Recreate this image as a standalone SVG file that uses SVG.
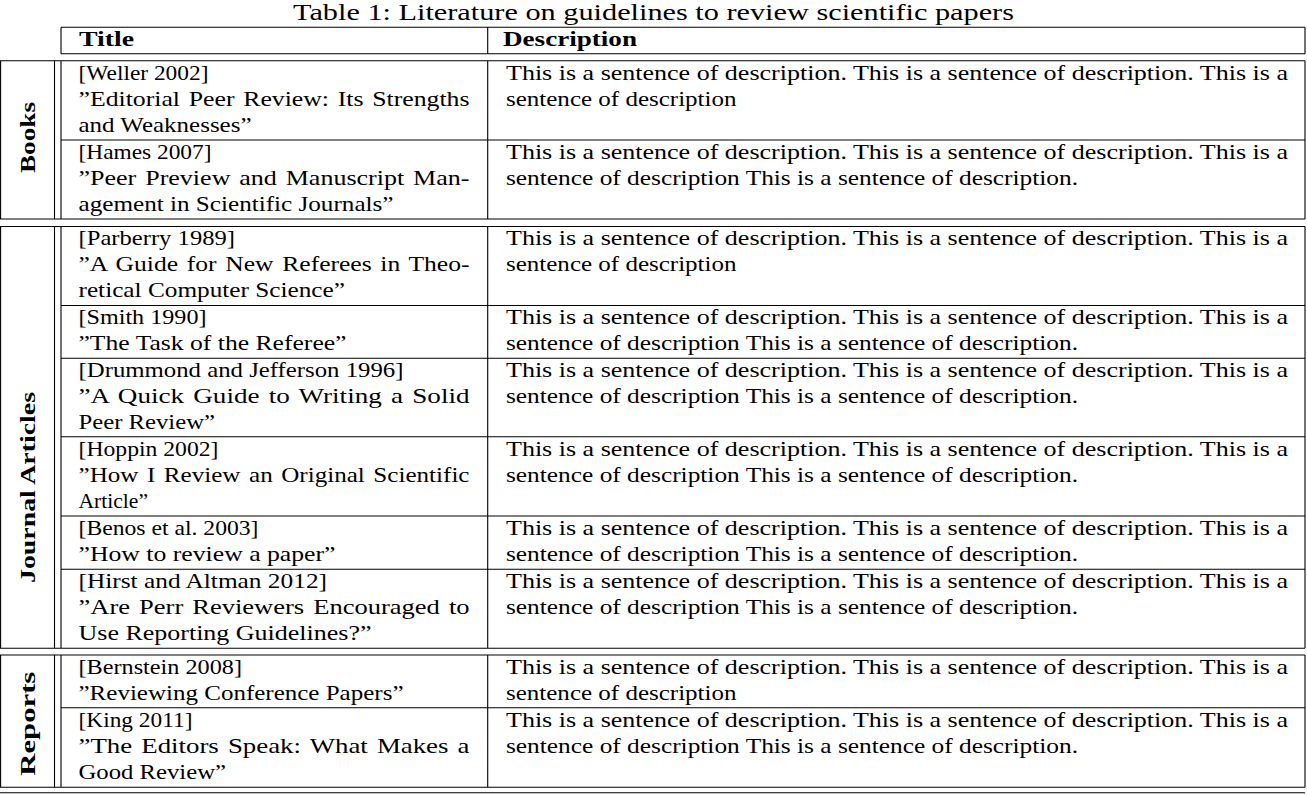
<svg xmlns="http://www.w3.org/2000/svg" width="1307" height="795" viewBox="0 0 1307 795">
<style>
  .bg { fill: #ffffff; }
  .ln { stroke: #000; stroke-width: 1.1; fill: none; }
  .t { font-family: "Liberation Serif", "Times New Roman", serif; font-size: 22px; fill: #000; }
  .j { word-spacing: 2px; }
  .b { font-family: "Liberation Serif", "Times New Roman", serif; font-size: 22px; font-weight: bold; fill: #000; }
  .cap { font-family: "Liberation Serif", "Times New Roman", serif; font-size: 23px; fill: #000; }
</style>
<rect class="bg" x="0" y="0" width="1307" height="795"/>

<text id="caption" class="cap" x="293" y="20" textLength="721" lengthAdjust="spacingAndGlyphs">Table 1: Literature on guidelines to review scientific papers</text>

<g id="connectors">
  <path class="ln" d="M61,27.3 H1305 M61,53.7 H1305 M61,27.3 V53.7 M487.7,27.3 V53.7 M1305,27.3 V53.7"/>
  <path class="ln" d="M0,60.7 H1305 M0,219 H1305 M61,140 H1305 M0.6,60.7 V219 M54.5,60.7 V219 M61,60.7 V219 M487.7,60.7 V219 M1305,60.7 V219"/>
  <path class="ln" d="M0,226.5 H1305 M0,648.3 H1305 M61,305.5 H1305 M61,358.3 H1305 M61,436.7 H1305 M61,516 H1305 M61,569.3 H1305 M0.6,226.5 V648.3 M54.5,226.5 V648.3 M61,226.5 V648.3 M487.7,226.5 V648.3 M1305,226.5 V648.3"/>
  <path class="ln" d="M0,655 H1305 M0,787.3 H1305 M61,707.7 H1305 M0.6,655 V787.3 M54.5,655 V787.3 M61,655 V787.3 M487.7,655 V787.3 M1305,655 V787.3"/>
  <path class="ln" d="M0,792.7 H1305"/>
</g>

<g id="header">
  <text class="b" x="79" y="45.5" textLength="55" lengthAdjust="spacingAndGlyphs">Title</text>
  <text class="b" x="503" y="45.5" textLength="134" lengthAdjust="spacingAndGlyphs">Description</text>
</g>

<g id="group-books">
  <text class="b" transform="translate(35,137.5) rotate(-90)" text-anchor="middle" textLength="71" lengthAdjust="spacingAndGlyphs">Books</text>
</g>
<g id="group-journal">
  <text class="b" transform="translate(35,487.5) rotate(-90)" text-anchor="middle" textLength="191" lengthAdjust="spacingAndGlyphs">Journal Articles</text>
</g>
<g id="group-reports">
  <text class="b" transform="translate(35,723.7) rotate(-90)" text-anchor="middle" textLength="104" lengthAdjust="spacingAndGlyphs">Reports</text>
</g>

<g id="row-weller">
  <text class="t" x="78.5" y="79.5" textLength="130" lengthAdjust="spacingAndGlyphs">[Weller 2002]</text>
  <text class="t j" x="78.5" y="105.5" textLength="391" lengthAdjust="spacingAndGlyphs">”Editorial Peer Review: Its Strengths</text>
  <text class="t" x="78.5" y="131.5" textLength="173" lengthAdjust="spacingAndGlyphs">and Weaknesses”</text>
  <text class="t" x="506" y="79.5" textLength="782" lengthAdjust="spacingAndGlyphs">This is a sentence of description. This is a sentence of description. This is a</text>
  <text class="t" x="506" y="105.5" textLength="230.5" lengthAdjust="spacingAndGlyphs">sentence of description</text>
</g>

<g id="row-hames">
  <text class="t" x="78.5" y="158.8" textLength="133" lengthAdjust="spacingAndGlyphs">[Hames 2007]</text>
  <text class="t j" x="78.5" y="184.8" textLength="391" lengthAdjust="spacingAndGlyphs">”Peer Preview and Manuscript Man-</text>
  <text class="t" x="78.5" y="210.8" textLength="315" lengthAdjust="spacingAndGlyphs">agement in Scientific Journals”</text>
  <text class="t" x="506" y="158.8" textLength="782" lengthAdjust="spacingAndGlyphs">This is a sentence of description. This is a sentence of description. This is a</text>
  <text class="t" x="506" y="184.8" textLength="572" lengthAdjust="spacingAndGlyphs">sentence of description This is a sentence of description.</text>
</g>

<g id="row-parberry">
  <text class="t" x="78.5" y="245.3" textLength="156.5" lengthAdjust="spacingAndGlyphs">[Parberry 1989]</text>
  <text class="t j" x="78.5" y="271.3" textLength="391" lengthAdjust="spacingAndGlyphs">”A Guide for New Referees in Theo-</text>
  <text class="t" x="78.5" y="297.3" textLength="266.5" lengthAdjust="spacingAndGlyphs">retical Computer Science”</text>
  <text class="t" x="506" y="245.3" textLength="782" lengthAdjust="spacingAndGlyphs">This is a sentence of description. This is a sentence of description. This is a</text>
  <text class="t" x="506" y="271.3" textLength="230.5" lengthAdjust="spacingAndGlyphs">sentence of description</text>
</g>

<g id="row-smith">
  <text class="t" x="78.5" y="324.3" textLength="128" lengthAdjust="spacingAndGlyphs">[Smith 1990]</text>
  <text class="t" x="78.5" y="350.3" textLength="268" lengthAdjust="spacingAndGlyphs">”The Task of the Referee”</text>
  <text class="t" x="506" y="324.3" textLength="782" lengthAdjust="spacingAndGlyphs">This is a sentence of description. This is a sentence of description. This is a</text>
  <text class="t" x="506" y="350.3" textLength="572" lengthAdjust="spacingAndGlyphs">sentence of description This is a sentence of description.</text>
</g>

<g id="row-drummond">
  <text class="t" x="78.5" y="377.1" textLength="325" lengthAdjust="spacingAndGlyphs">[Drummond and Jefferson 1996]</text>
  <text class="t j" x="78.5" y="403.1" textLength="391" lengthAdjust="spacingAndGlyphs">”A Quick Guide to Writing a Solid</text>
  <text class="t" x="78.5" y="429.1" textLength="136.5" lengthAdjust="spacingAndGlyphs">Peer Review”</text>
  <text class="t" x="506" y="377.1" textLength="782" lengthAdjust="spacingAndGlyphs">This is a sentence of description. This is a sentence of description. This is a</text>
  <text class="t" x="506" y="403.1" textLength="572" lengthAdjust="spacingAndGlyphs">sentence of description This is a sentence of description.</text>
</g>

<g id="row-hoppin">
  <text class="t" x="78.5" y="455.5" textLength="140" lengthAdjust="spacingAndGlyphs">[Hoppin 2002]</text>
  <text class="t j" x="78.5" y="481.5" textLength="391" lengthAdjust="spacingAndGlyphs">”How I Review an Original Scientific</text>
  <text class="t" x="78.5" y="507.5" textLength="69.5" lengthAdjust="spacingAndGlyphs">Article”</text>
  <text class="t" x="506" y="455.5" textLength="782" lengthAdjust="spacingAndGlyphs">This is a sentence of description. This is a sentence of description. This is a</text>
  <text class="t" x="506" y="481.5" textLength="572" lengthAdjust="spacingAndGlyphs">sentence of description This is a sentence of description.</text>
</g>

<g id="row-benos">
  <text class="t" x="78.5" y="534.8" textLength="180" lengthAdjust="spacingAndGlyphs">[Benos et al. 2003]</text>
  <text class="t" x="78.5" y="560.8" textLength="257" lengthAdjust="spacingAndGlyphs">”How to review a paper”</text>
  <text class="t" x="506" y="534.8" textLength="782" lengthAdjust="spacingAndGlyphs">This is a sentence of description. This is a sentence of description. This is a</text>
  <text class="t" x="506" y="560.8" textLength="572" lengthAdjust="spacingAndGlyphs">sentence of description This is a sentence of description.</text>
</g>

<g id="row-hirst">
  <text class="t" x="78.5" y="588.1" textLength="248.5" lengthAdjust="spacingAndGlyphs">[Hirst and Altman 2012]</text>
  <text class="t j" x="78.5" y="614.1" textLength="391" lengthAdjust="spacingAndGlyphs">”Are Perr Reviewers Encouraged to</text>
  <text class="t" x="78.5" y="640.1" textLength="293" lengthAdjust="spacingAndGlyphs">Use Reporting Guidelines?”</text>
  <text class="t" x="506" y="588.1" textLength="782" lengthAdjust="spacingAndGlyphs">This is a sentence of description. This is a sentence of description. This is a</text>
  <text class="t" x="506" y="614.1" textLength="572" lengthAdjust="spacingAndGlyphs">sentence of description This is a sentence of description.</text>
</g>

<g id="row-bernstein">
  <text class="t" x="78.5" y="673.8" textLength="163.5" lengthAdjust="spacingAndGlyphs">[Bernstein 2008]</text>
  <text class="t" x="78.5" y="699.8" textLength="325" lengthAdjust="spacingAndGlyphs">”Reviewing Conference Papers”</text>
  <text class="t" x="506" y="673.8" textLength="782" lengthAdjust="spacingAndGlyphs">This is a sentence of description. This is a sentence of description. This is a</text>
  <text class="t" x="506" y="699.8" textLength="230.5" lengthAdjust="spacingAndGlyphs">sentence of description</text>
</g>

<g id="row-king">
  <text class="t" x="78.5" y="726.5" textLength="114" lengthAdjust="spacingAndGlyphs">[King 2011]</text>
  <text class="t j" x="78.5" y="752.5" textLength="391" lengthAdjust="spacingAndGlyphs">”The Editors Speak: What Makes a</text>
  <text class="t" x="78.5" y="778.5" textLength="147.5" lengthAdjust="spacingAndGlyphs">Good Review”</text>
  <text class="t" x="506" y="726.5" textLength="782" lengthAdjust="spacingAndGlyphs">This is a sentence of description. This is a sentence of description. This is a</text>
  <text class="t" x="506" y="752.5" textLength="572" lengthAdjust="spacingAndGlyphs">sentence of description This is a sentence of description.</text>
</g>
</svg>
